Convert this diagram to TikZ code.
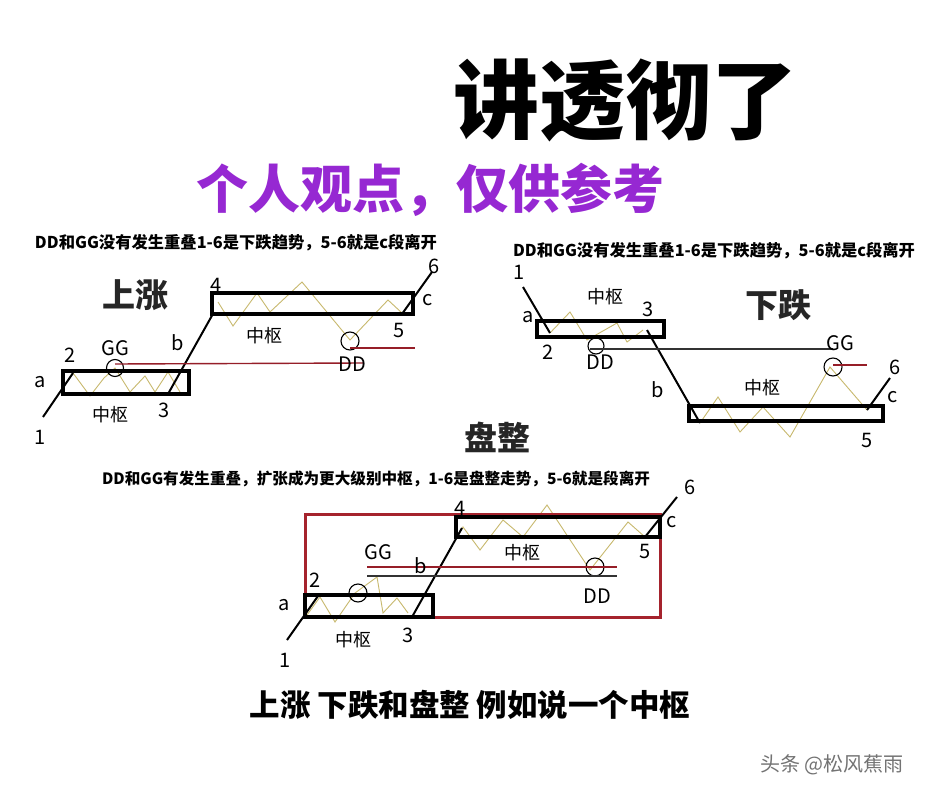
\documentclass[tikz,border=0pt]{standalone}
\usepackage{fontspec}
\newfontfamily\cjk{Noto Sans CJK SC}
\setmainfont{Noto Sans CJK SC}
\begin{document}
\begin{tikzpicture}[x=1pt,y=-1pt,
  box/.style={draw=black,line width=3.2pt},
  zz/.style={draw={rgb,255:red,200;green,185;blue,110},line width=0.9pt},
  seg/.style={draw=black,line width=2pt},
  hl/.style={draw={rgb,255:red,150;green,30;blue,40},line width=1.4pt},
  hk/.style={draw=black!80,line width=1.4pt},
  circ/.style={draw=black,line width=1.1pt},
  lbl/.style={font=\fontsize{20}{20}\selectfont,inner sep=0pt},
  zs/.style={font=\fontsize{18}{18}\selectfont,inner sep=0pt},
  note/.style={font=\bfseries\fontsize{16.3}{17}\selectfont,inner sep=0pt},
  big/.style={font=\bfseries\fontsize{33}{33}\selectfont,inner sep=0pt,text=black!85}]
\useasboundingbox[fill=white] (0,0) rectangle (941,794);
% titles
\node[inner sep=0pt,font=\bfseries\fontsize{86}{86}\selectfont] (title) at (625,100) {讲透彻了};
\node[inner sep=0pt,font=\bfseries\fontsize{52}{52}\selectfont,text={rgb,255:red,150;green,40;blue,210}] (sub) at (430,190) {个人观点，仅供参考};
\node[note] (n1) at (236,243) {DD和GG没有发生重叠1-6是下跌趋势，5-6就是c段离开};
\node[note] (n2) at (714,251) {DD和GG没有发生重叠1-6是下跌趋势，5-6就是c段离开};
\node[note,font=\bfseries\fontsize{15.6}{16}\selectfont] (n3) at (376,479) {DD和GG有发生重叠，扩张成为更大级别中枢，1-6是盘整走势，5-6就是段离开};
% ===== 上涨 =====
\node[big] (t1) at (135,295) {上涨};
\draw[zz] (73,373)--(90,396)--(104,378)--(115,368)--(130,392)--(145,376)--(155,392)--(168,372)--(180,392);
\draw[zz] (218,302)--(233,326)--(257,293)--(270,312)--(302,282)--(350,340)--(388,300)--(402,313);
\draw[box] (63,371) rectangle (189,394);
\draw[box] (212,293) rectangle (413,314);
\coordinate (p1) at (43,417); \coordinate (p2) at (73,373);
\coordinate (p3) at (168,394); \coordinate (p4) at (214,312);
\coordinate (p5) at (402,314); \coordinate (p6) at (432,272);
\draw[seg] (p1)--(p2); \draw[seg] (p3)--(p4); \draw[seg] (p5)--(p6);
\node[circ,circle,minimum size=17pt,inner sep=0pt] (gg1) at (115,368) {};
\node[circ,circle,minimum size=18pt,inner sep=0pt] (dd1) at (350,341) {};
\coordinate (e1) at (363,363); \coordinate (e2) at (415,348);
\draw[hl] (gg1.center) ++(0,-4) -- (e1);
\draw[hl] (dd1.center) ++(0,7) -- (e2);
\node[lbl] at (70,355) {2}; \node[lbl] at (115,348) {GG}; \node[lbl] at (40,382) {a};
\node[zs] at (110,415) {中枢}; \node[lbl] at (164,410) {3}; \node[lbl] at (40,437) {1};
\node[lbl] at (178,343) {b}; \node[lbl] at (216,285) {4}; \node[zs] at (264,336) {中枢};
\node[lbl] at (399,330) {5}; \node[lbl] at (352,364) {DD}; \node[lbl] at (428,300) {c};
\node[lbl] at (434,266) {6};
% ===== 下跌 =====
\node[big] (t2) at (778,305) {下跌};
\draw[zz] (550,333)--(570,312)--(587,340)--(617,323)--(627,342)--(643,330);
\draw[zz] (700,423)--(718,397)--(740,432)--(763,407)--(790,437)--(830,367)--(867,410);
\draw[box] (537,321) rectangle (664,337);
\draw[box] (689,406) rectangle (883,421);
\coordinate (q1) at (523,287); \coordinate (q2) at (550,333);
\coordinate (q3) at (647,330); \coordinate (q4) at (700,423);
\coordinate (q5) at (867,410); \coordinate (q6) at (890,378);
\draw[seg] (q1)--(q2); \draw[seg] (q3)--(q4); \draw[seg] (q5)--(q6);
\node[circ,circle,minimum size=16pt,inner sep=0pt] (dd2) at (596,346) {};
\node[circ,circle,minimum size=18pt,inner sep=0pt] (gg2) at (833,367) {};
\coordinate (f1) at (833,349); \coordinate (f2) at (867,365);
\draw[hk] (dd2.center) ++(-6,3) -- (f1);
\draw[hl] (gg2.center) ++(0,-2) -- (f2);
\node[lbl] at (519,272) {1}; \node[zs] at (605,297) {中枢}; \node[lbl] at (648,309) {3};
\node[lbl] at (528,317) {a}; \node[lbl] at (548,352) {2}; \node[lbl] at (600,362) {DD};
\node[lbl] at (840,343) {GG}; \node[lbl] at (895,367) {6}; \node[lbl] at (658,390) {b};
\node[zs] at (762,388) {中枢}; \node[lbl] at (893,397) {c}; \node[lbl] at (867,440) {5};
% ===== 盘整 =====
\node[big] (t3) at (497,437) {盘整};
\draw[zz] (307,615)--(320,597)--(335,622)--(355,593)--(377,577)--(383,613)--(397,598)--(408,613);
\draw[zz] (457,537)--(463,527)--(480,550)--(503,520)--(523,537)--(547,505)--(590,570)--(628,522)--(645,537);
\draw[draw={rgb,255:red,165;green,35;blue,45},line width=3pt] (305,514) rectangle (660,617);
\draw[box] (305,595) rectangle (433,617);
\draw[box] (456,517) rectangle (660,537);
\coordinate (r1) at (287,640); \coordinate (r2) at (318,596);
\coordinate (r3) at (412,617); \coordinate (r4) at (462,528);
\coordinate (r5) at (645,537); \coordinate (r6) at (677,497);
\draw[seg] (r1)--(r2); \draw[seg] (r3)--(r4); \draw[seg] (r5)--(r6);
\node[circ,circle,minimum size=18pt,inner sep=0pt] (gg3) at (358,593) {};
\node[circ,circle,minimum size=18pt,inner sep=0pt] (dd3) at (595,567) {};
\coordinate (g1) at (367,567); \coordinate (g2) at (617,567);
\coordinate (g3) at (367,576); \coordinate (g4) at (617,576);
\draw[hl] (g1)--(g2); \draw[hk] (g3)--(g4);
\node[lbl] at (460,508) {4}; \node[lbl] at (690,487) {6}; \node[lbl] at (672,522) {c};
\node[lbl] at (378,552) {GG}; \node[lbl] at (421,566) {b}; \node[zs] at (522,553) {中枢};
\node[lbl] at (645,551) {5}; \node[lbl] at (315,580) {2}; \node[lbl] at (284,605) {a};
\node[lbl] at (597,596) {DD}; \node[zs] at (353,640) {中枢}; \node[lbl] at (408,635) {3};
\node[lbl] at (285,660) {1};
% bottom
\node[inner sep=0pt,font=\bfseries\fontsize{30.5}{31}\selectfont] (cap) at (470,705) {上涨 下跌和盘整 例如说一个中枢};
\node[inner sep=0pt,font=\fontsize{20}{20}\selectfont,text=black!55] (wm) at (832,765) {头条 @松风蕉雨};
\end{tikzpicture}
\end{document}
